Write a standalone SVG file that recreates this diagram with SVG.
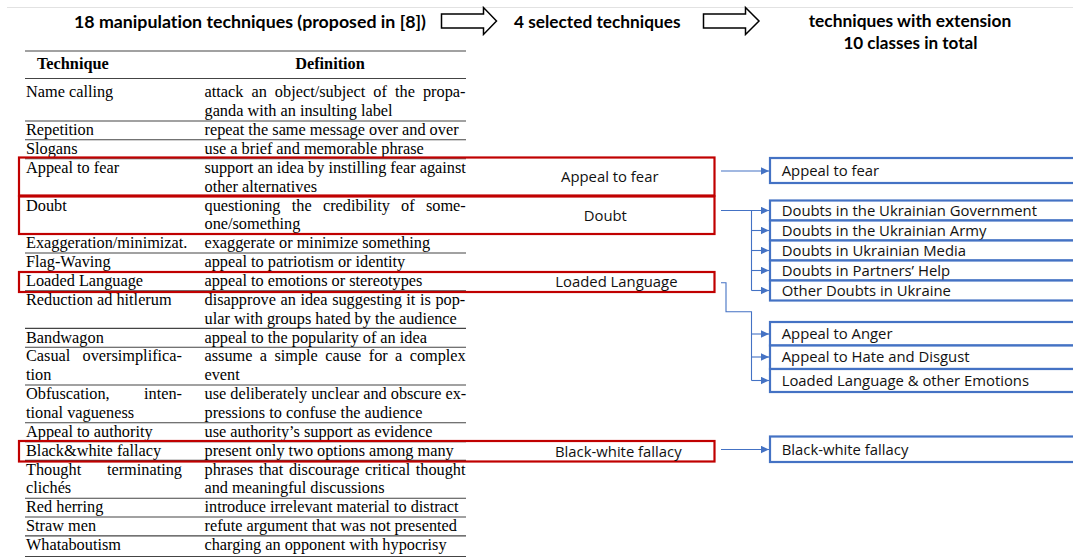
<svg xmlns="http://www.w3.org/2000/svg" width="1073" height="560" viewBox="0 0 1073 560">
<style>
.hd{font-family:"Lato","Open Sans","Liberation Sans",sans-serif;font-weight:bold;font-size:17.5px;fill:#000;font-variant-ligatures:none;font-feature-settings:"liga" 0,"dlig" 0}
.tb{font-family:"Liberation Serif","Times New Roman",serif;font-size:16.3px;fill:#000}
.tbh{font-family:"Liberation Serif","Times New Roman",serif;font-size:16.3px;font-weight:bold;fill:#000}
.lb{font-family:"Open Sans","Liberation Sans",sans-serif;font-size:14.85px;fill:#111}
.rule{stroke:#444;stroke-width:1.1}
.red{fill:none;stroke:#c00000;stroke-width:2.2}
.blue{fill:#fff;stroke:#4472c4;stroke-width:2.2}
.con{fill:none;stroke:#4472c4;stroke-width:1.1}
.bigarrow{fill:#fff;stroke:#000;stroke-width:1.5;stroke-linejoin:miter}
</style>
<defs>
<marker id="ah" markerUnits="userSpaceOnUse" markerWidth="9" markerHeight="8" refX="8.5" refY="4" orient="auto">
<path d="M0,0 L8.5,4 L0,8 z" fill="#4472c4"/>
</marker>
</defs>
<rect x="0" y="0" width="1073" height="560" fill="#fff"/>
<line x1="7" y1="7.5" x2="1073" y2="7.5" stroke="#e2e2e2" stroke-width="1"/>

<g id="headers">
<text class="hd" x="74" y="27.5" textLength="352" lengthAdjust="spacingAndGlyphs">18 manipulation techniques (proposed in [8])</text>
<polygon class="bigarrow" points="441.5,14 483.5,14 483.5,7.5 496.5,21 483.5,34.5 483.5,28 441.5,28"/>
<text class="hd" x="514" y="27.5" textLength="166.5" lengthAdjust="spacingAndGlyphs">4 selected techniques</text>
<polygon class="bigarrow" points="703.5,14 745.5,14 745.5,7.5 759,21 745.5,34.5 745.5,28 703.5,28"/>
<text class="hd" x="808.7" y="26.5" textLength="202.6" lengthAdjust="spacingAndGlyphs">techniques with extension</text>
<text class="hd" x="843.4" y="49" textLength="134" lengthAdjust="spacingAndGlyphs">10 classes in total</text>
</g>

<g id="table">
<line class="rule" x1="25" y1="51" x2="466" y2="51" stroke-width="1.5"/>
<text class="tbh" x="37" y="69.3">Technique</text>
<text class="tbh" x="330" y="69.3" text-anchor="middle">Definition</text>
<line class="rule" x1="25" y1="78.5" x2="466" y2="78.5"/>
<line class="rule" x1="25" y1="121" x2="466" y2="121"/>
<line class="rule" x1="25" y1="139.8" x2="466" y2="139.8"/>
<line class="rule" x1="25" y1="158.7" x2="466" y2="158.7"/>
<line class="rule" x1="25" y1="196.4" x2="466" y2="196.4"/>
<line class="rule" x1="25" y1="234.1" x2="466" y2="234.1"/>
<line class="rule" x1="25" y1="253" x2="466" y2="253"/>
<line class="rule" x1="25" y1="271.8" x2="466" y2="271.8"/>
<line class="rule" x1="25" y1="290.7" x2="466" y2="290.7"/>
<line class="rule" x1="25" y1="328.4" x2="466" y2="328.4"/>
<line class="rule" x1="25" y1="347.3" x2="466" y2="347.3"/>
<line class="rule" x1="25" y1="385" x2="466" y2="385"/>
<line class="rule" x1="25" y1="422.7" x2="466" y2="422.7"/>
<line class="rule" x1="25" y1="441.6" x2="466" y2="441.6"/>
<line class="rule" x1="25" y1="460.4" x2="466" y2="460.4"/>
<line class="rule" x1="25" y1="498.2" x2="466" y2="498.2"/>
<line class="rule" x1="25" y1="517" x2="466" y2="517"/>
<line class="rule" x1="25" y1="535.9" x2="466" y2="535.9"/>
<line class="rule" x1="25" y1="556.5" x2="466" y2="556.5" stroke-width="1.4"/>

<text class="tb" x="26" y="97.3">Name calling</text>
<text class="tb" x="204.5" y="97.3" word-spacing="4">attack an object/subject of the propa-</text>
<text class="tb" x="204.5" y="116.2">ganda with an insulting label</text>
<text class="tb" x="26" y="135">Repetition</text>
<text class="tb" x="204.5" y="135">repeat the same message over and over</text>
<text class="tb" x="26" y="153.9">Slogans</text>
<text class="tb" x="204.5" y="153.9">use a brief and memorable phrase</text>
<text class="tb" x="26" y="172.7">Appeal to fear</text>
<text class="tb" x="204.5" y="172.7">support an idea by instilling fear against</text>
<text class="tb" x="204.5" y="191.6">other alternatives</text>
<text class="tb" x="26" y="210.5">Doubt</text>
<text class="tb" x="204.5" y="210.5" word-spacing="7.2">questioning the credibility of some-</text>
<text class="tb" x="204.5" y="229.3">one/something</text>
<text class="tb" x="26" y="248.2">Exaggeration/minimizat.</text>
<text class="tb" x="204.5" y="248.2">exaggerate or minimize something</text>
<text class="tb" x="26" y="267">Flag-Waving</text>
<text class="tb" x="204.5" y="267">appeal to patriotism or identity</text>
<text class="tb" x="26" y="285.9">Loaded Language</text>
<text class="tb" x="204.5" y="285.9">appeal to emotions or stereotypes</text>
<text class="tb" x="26" y="304.8">Reduction ad hitlerum</text>
<text class="tb" x="204.5" y="304.8" word-spacing="0.5">disapprove an idea suggesting it is pop-</text>
<text class="tb" x="204.5" y="323.6">ular with groups hated by the audience</text>
<text class="tb" x="26" y="342.5">Bandwagon</text>
<text class="tb" x="204.5" y="342.5">appeal to the popularity of an idea</text>
<text class="tb" x="26" y="361.3">Casual</text>
<text class="tb" x="182" y="361.3" text-anchor="end">oversimplifica-</text>
<text class="tb" x="204.5" y="361.3" word-spacing="3.3">assume a simple cause for a complex</text>
<text class="tb" x="26" y="380.2">tion</text>
<text class="tb" x="204.5" y="380.2">event</text>
<text class="tb" x="26" y="399.1">Obfuscation,</text>
<text class="tb" x="182" y="399.1" text-anchor="end">inten-</text>
<text class="tb" x="204.5" y="399.1">use deliberately unclear and obscure ex-</text>
<text class="tb" x="26" y="417.9">tional vagueness</text>
<text class="tb" x="204.5" y="417.9">pressions to confuse the audience</text>
<text class="tb" x="26" y="436.8">Appeal to authority</text>
<text class="tb" x="204.5" y="436.8">use authority’s support as evidence</text>
<text class="tb" x="26" y="455.6">Black&amp;white fallacy</text>
<text class="tb" x="204.5" y="455.6">present only two options among many</text>
<text class="tb" x="26" y="474.5">Thought</text>
<text class="tb" x="182" y="474.5" text-anchor="end">terminating</text>
<text class="tb" x="204.5" y="474.5" word-spacing="1.5">phrases that discourage critical thought</text>
<text class="tb" x="26" y="493.4">clichés</text>
<text class="tb" x="204.5" y="493.4">and meaningful discussions</text>
<text class="tb" x="26" y="512.2">Red herring</text>
<text class="tb" x="204.5" y="512.2">introduce irrelevant material to distract</text>
<text class="tb" x="26" y="531.1">Straw men</text>
<text class="tb" x="204.5" y="531.1">refute argument that was not presented</text>
<text class="tb" x="26" y="549.9">Whataboutism</text>
<text class="tb" x="204.5" y="549.9">charging an opponent with hypocrisy</text>
</g>

<g id="sel-appeal-to-fear">
<rect class="red" x="19" y="157.5" width="695.5" height="38"/>
<text class="lb" x="561" y="182">Appeal to fear</text>
</g>
<g id="sel-doubt">
<rect class="red" x="19" y="196.5" width="695.5" height="37.5"/>
<text class="lb" x="583.7" y="220.6">Doubt</text>
</g>
<g id="sel-loaded-language">
<rect class="red" x="19" y="272" width="695.5" height="20"/>
<text class="lb" x="555.3" y="287.3">Loaded Language</text>
</g>
<g id="sel-black-white">
<rect class="red" x="19" y="441" width="695.5" height="20.5"/>
<text class="lb" x="555" y="456.6">Black-white fallacy</text>
</g>

<g id="connectors">
<path class="con" d="M721,171 H769" marker-end="url(#ah)"/>
<path class="con" d="M721,210.5 H769" marker-end="url(#ah)"/>
<path class="con" d="M751.5,210.5 V290.5"/>
<path class="con" d="M751.5,230.5 H769" marker-end="url(#ah)"/>
<path class="con" d="M751.5,250.5 H769" marker-end="url(#ah)"/>
<path class="con" d="M751.5,270.5 H769" marker-end="url(#ah)"/>
<path class="con" d="M751.5,290.5 H769" marker-end="url(#ah)"/>
<path class="con" d="M721,282.7 H726 V311.7 H751.5 V380.5"/>
<path class="con" d="M751.5,334 H769" marker-end="url(#ah)"/>
<path class="con" d="M751.5,357 H769" marker-end="url(#ah)"/>
<path class="con" d="M751.5,380.5 H769" marker-end="url(#ah)"/>
<path class="con" d="M721,449.5 H769" marker-end="url(#ah)"/>
</g>

<g id="cls-appeal-to-fear">
<rect class="blue" x="770" y="158" width="320" height="25"/>
<text class="lb" x="781.7" y="175.8">Appeal to fear</text>
</g>
<g id="cls-doubt-government">
<rect class="blue" x="770" y="200.5" width="320" height="20"/>
<text class="lb" x="781.7" y="215.8">Doubts in the Ukrainian Government</text>
</g>
<g id="cls-doubt-army">
<rect class="blue" x="770" y="220.5" width="320" height="20"/>
<text class="lb" x="781.7" y="235.8">Doubts in the Ukrainian Army</text>
</g>
<g id="cls-doubt-media">
<rect class="blue" x="770" y="240.5" width="320" height="20"/>
<text class="lb" x="781.7" y="255.8">Doubts in Ukrainian Media</text>
</g>
<g id="cls-doubt-partners">
<rect class="blue" x="770" y="260.5" width="320" height="20"/>
<text class="lb" x="781.7" y="275.8">Doubts in Partners’ Help</text>
</g>
<g id="cls-doubt-other">
<rect class="blue" x="770" y="280.5" width="320" height="20"/>
<text class="lb" x="781.7" y="295.8">Other Doubts in Ukraine</text>
</g>
<g id="cls-anger">
<rect class="blue" x="770" y="322" width="320" height="23.5"/>
<text class="lb" x="781.7" y="339">Appeal to Anger</text>
</g>
<g id="cls-hate">
<rect class="blue" x="770" y="345.5" width="320" height="23.5"/>
<text class="lb" x="781.7" y="362">Appeal to Hate and Disgust</text>
</g>
<g id="cls-loaded">
<rect class="blue" x="770" y="369" width="320" height="23"/>
<text class="lb" x="781.7" y="385.8">Loaded Language &amp; other Emotions</text>
</g>
<g id="cls-black-white">
<rect class="blue" x="770" y="436.5" width="320" height="25.5"/>
<text class="lb" x="781.7" y="454.8">Black-white fallacy</text>
</g>
</svg>
